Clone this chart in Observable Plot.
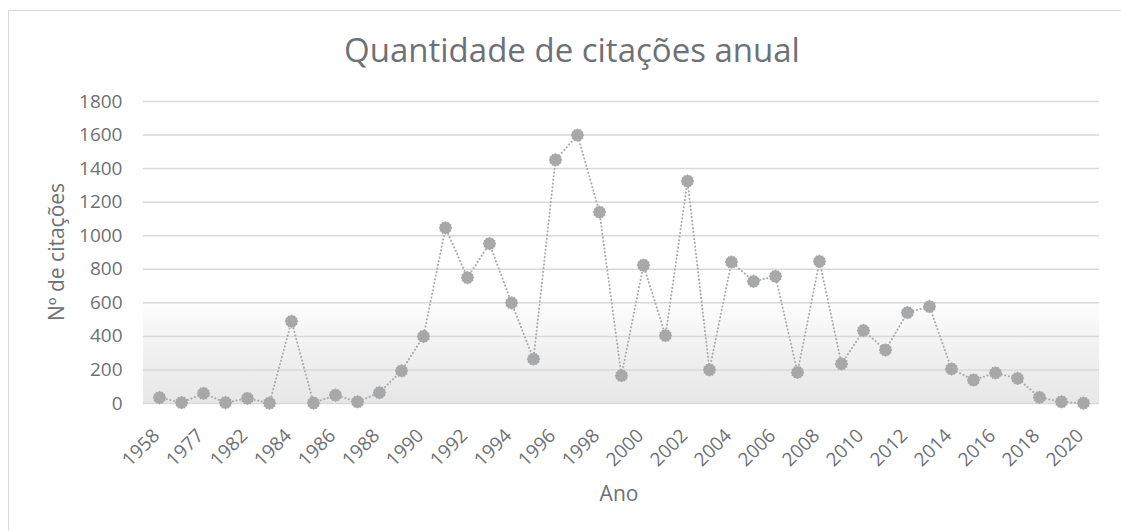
<!DOCTYPE html>
<html>
<head>
<meta charset="utf-8">
<script src="https://cdn.jsdelivr.net/npm/d3@7"></script>
<script src="https://cdn.jsdelivr.net/npm/@observablehq/plot@0.6"></script>
<style>
  body { margin: 0; background: #fff; font-family: "Open Sans", sans-serif; }
  #wrap { position: relative; width: 1121px; height: 531px; overflow: hidden; background: #fff; }
  #frame { position: absolute; left: 8px; top: 10px; width: 1130px; height: 540px; border: 1px solid #d9d9d9; box-sizing: border-box; }
  #title { position: absolute; top: 27px; left: 0; width: 1144px; text-align: center; font-size: 33px; line-height: 45px; color: #6e7175; white-space: nowrap; }
  #ylab { position: absolute; left: 56px; top: 252px; transform: translate(-50%, -50%) rotate(-90deg); font-size: 21px; color: #6e7175; white-space: nowrap; }
  #xlab { position: absolute; left: 619px; top: 493px; transform: translate(-50%, -50%); font-size: 21px; color: #6e7175; white-space: nowrap; }
  #chart { position: absolute; left: 0; top: 0; }
</style>
</head>
<body>
<div id="wrap">
  <div id="frame"></div>
  <div id="chart"></div>
  <div id="title">Quantidade de citações anual</div>
  <div id="ylab">Nº de citações</div>
  <div id="xlab">Ano</div>
</div>
<script>
// Categories (years) and annual citation counts
const years = ["1958","1976","1977","1980","1982","1983","1984","1985","1986","1987","1988","1989","1990",
  "1991","1992","1993","1994","1995","1996","1997","1998","1999","2000","2001","2002","2003","2004",
  "2005","2006","2007","2008","2009","2010","2011","2012","2013","2014","2015","2016","2017","2018","2019","2020"];
const citations = [35, 5, 60, 5, 30, 2, 490, 3, 50, 10, 65, 195, 400,
  1047, 750, 953, 600, 265, 1452, 1600, 1141, 166, 824, 405, 1326, 201, 843,
  728, 758, 185, 847, 236, 435, 319, 542, 578, 206, 140, 182, 150, 36, 10, 2];
const yTicks = [0, 200, 400, 600, 800, 1000, 1200, 1400, 1600, 1800];
const xTickLabels = years.filter((_, i) => i % 2 === 0);
const shadeBand = [0, 600];

const data = years.map((y, i) => ({year: y, value: citations[i]}));

// jagged round marker
const gear = {
  draw(ctx, size) {
    const r = Math.sqrt(size / Math.PI);
    const n = 12;
    for (let i = 0; i < 2 * n; i++) {
      const a = i * Math.PI / n;
      const rr = i % 2 ? r * 0.86 : r;
      const x = rr * Math.sin(a), y = -rr * Math.cos(a);
      if (i) ctx.lineTo(x, y); else ctx.moveTo(x, y);
    }
    ctx.closePath();
  }
};

const grey = "#a6a8aa";

const plot = Plot.plot({
  width: 1121,
  height: 531,
  marginTop: 101,
  marginBottom: 128,
  marginLeft: 143,
  marginRight: 22,
  style: {fontFamily: "'Open Sans', sans-serif", fontSize: "19px", color: "#6e7175", background: "transparent", overflow: "visible"},
  x: {type: "point", domain: years, padding: 0.5},
  y: {domain: [0, 1800]},
  marks: [
    Plot.rect([shadeBand], {y1: d => d[0], y2: d => d[1], fill: "url(#shadeGrad)"}),
    Plot.ruleY(yTicks, {stroke: "#d9d9d9", strokeWidth: 1.5}),
    Plot.axisY({ticks: yTicks, tickSize: 0, tickPadding: 21, label: null, tickFormat: d3.format("d")}),
    Plot.axisX({ticks: xTickLabels, tickSize: 0, tickPadding: 24, tickRotate: -45, label: null, dx: -3, dy: 5}),
    Plot.line(data, {x: "year", y: "value", stroke: grey, strokeWidth: 2, strokeDasharray: "0.1 3.6", strokeLinecap: "round"}),
    Plot.dot(data, {x: "year", y: "value", symbol: gear, r: 6.8, fill: grey, stroke: "none"})
  ]
});

const ns = "http://www.w3.org/2000/svg";
const defs = document.createElementNS(ns, "defs");
const grad = document.createElementNS(ns, "linearGradient");
grad.setAttribute("id", "shadeGrad");
grad.setAttribute("x1", "0"); grad.setAttribute("y1", "0");
grad.setAttribute("x2", "0"); grad.setAttribute("y2", "1");
[["0", "#fdfdfd"], ["0.5", "#f0f0f0"], ["1", "#e6e7e6"]].forEach(([o, c]) => {
  const s = document.createElementNS(ns, "stop");
  s.setAttribute("offset", o); s.setAttribute("stop-color", c);
  grad.appendChild(s);
});
defs.appendChild(grad);
plot.insertBefore(defs, plot.firstChild);

document.getElementById("chart").appendChild(plot);
</script>
</body>
</html>
